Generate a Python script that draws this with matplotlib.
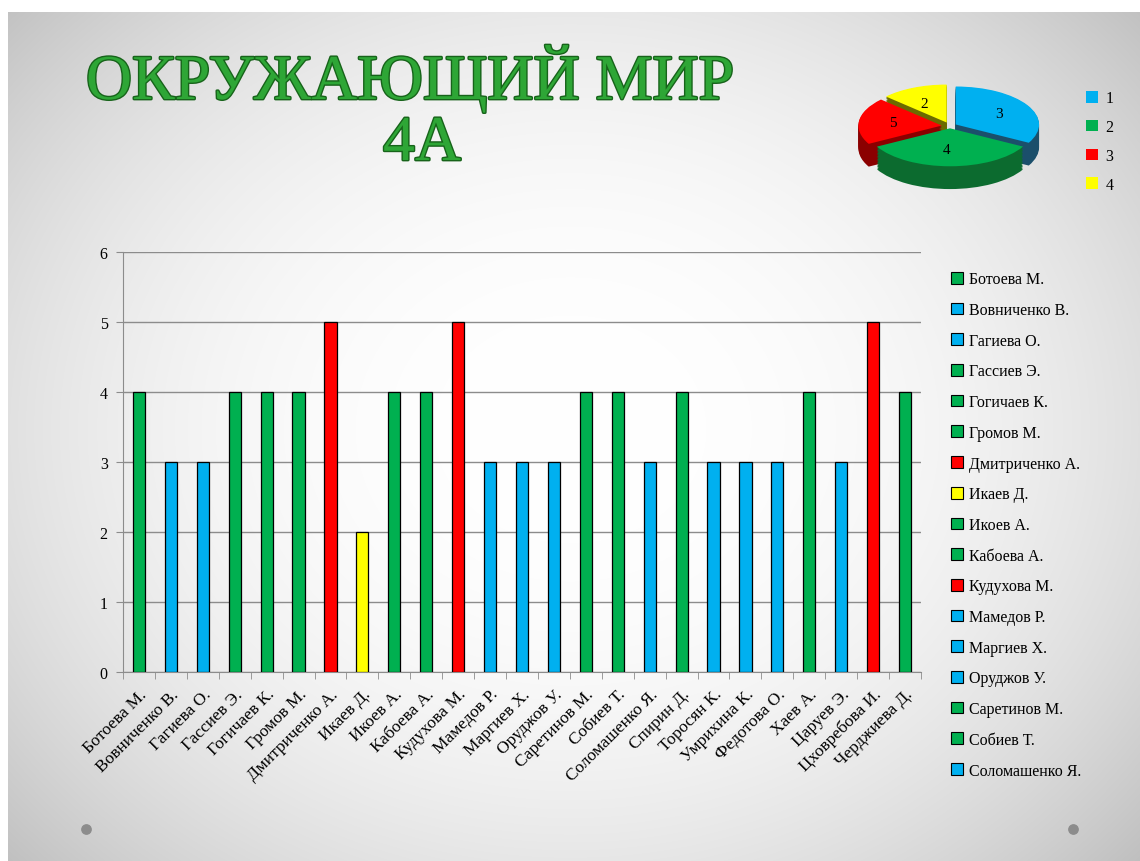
import matplotlib
matplotlib.use("Agg")
import matplotlib.pyplot as plt
import matplotlib.patches as mpatches
import matplotlib.patheffects as pe
import numpy as np

# --- data ---
students = [
    "Ботоева М.", "Вовниченко В.", "Гагиева О.", "Гассиев Э.", "Гогичаев К.",
    "Громов М.", "Дмитриченко А.", "Икаев Д.", "Икоев А.", "Кабоева А.",
    "Кудухова М.", "Мамедов Р.", "Маргиев Х.", "Оруджов У.", "Саретинов М.",
    "Собиев Т.", "Соломашенко Я.", "Спирин Д.", "Торосян К.", "Умрихина К.",
    "Федотова О.", "Хаев А.", "Царуев Э.", "Цховребова И.", "Черджиева Д.",
]
grades = [4, 3, 3, 4, 4, 4, 5, 2, 4, 4, 5, 3, 3, 3, 4, 4, 3, 4, 3, 3, 3, 4, 3, 5, 4]
y_ticks = [0, 1, 2, 3, 4, 5, 6]
legend_count = 17  # the legend is cut off after this many names

pie_legend = ["1", "2", "3", "4"]
pie_labels = ["3", "4", "5", "2"]
pie_shares = [33, 34, 20, 13]

grade_colors = {2: "#FFFF00", 3: "#00B0F0", 4: "#00B050", 5: "#FF0000"}
pie_colors = ["#00B0F0", "#00B050", "#FF0000", "#FFFF00"]
pie_side = ["#1B4F6B", "#0C6B2F", "#8B0000", "#6B6B00"]

W, H = 1140, 862
fig = plt.figure(figsize=(W / 100, H / 100), dpi=100)

# slide background: radial grey-white gradient
bg = fig.add_axes([0, 0, 1, 1])
yy, xx = np.mgrid[0:H, 0:W]
r = np.sqrt(((xx - 570) / 620.0) ** 2 + ((yy - 430) / 520.0) ** 2)
shade = 1.0 - 0.15 * np.clip(r, 0, 1.4) ** 2.4
img = np.dstack([shade, shade, shade])
img[:13, :] = 1.0
img[:, :8] = 1.0
bg.imshow(img, extent=[0, W, H, 0], aspect="auto")
bg.set_xlim(0, W)
bg.set_ylim(H, 0)
bg.axis("off")
bg.scatter([86, 1073], [830, 830], s=45, color="#8C8C8C")

# title
title_fx = [pe.withStroke(linewidth=2, foreground="#17631A")]
bg.text(410, 80, "ОКРУЖАЮЩИЙ МИР", ha="center", va="center", fontsize=46,
        family="Liberation Serif", color="#2EA636", path_effects=title_fx)
bg.text(422, 146, "4А", ha="center", va="center", fontsize=46,
        family="Liberation Serif", color="#2EA636", path_effects=title_fx)

# bar chart
ax = fig.add_axes([123 / W, 1 - 673 / H, 798 / W, 420 / H])
ax.patch.set_alpha(0)
x = np.arange(len(students))
colors = [grade_colors[g] for g in grades]
ax.bar(x, grades, width=0.38, color=colors, edgecolor="black", linewidth=0.9, zorder=3)
ax.set_xlim(-0.5, len(students) - 0.5)
ax.set_ylim(0, 6)
ax.set_yticks(y_ticks)
ax.yaxis.grid(True, color="#8C8C8C", linewidth=1, zorder=0)
for side in ["top", "right"]:
    ax.spines[side].set_visible(False)
for side in ["left", "bottom"]:
    ax.spines[side].set_color("#8C8C8C")
ax.tick_params(axis="y", length=5, color="#8C8C8C", labelsize=11.5, pad=6)
ax.set_xticks(x)
ax.set_xticklabels(students, rotation=45, ha="right", rotation_mode="anchor",
                   fontsize=12.5, family="Liberation Serif")
ax.tick_params(axis="x", which="major", length=0, pad=10)
ax.set_xticks(np.arange(-0.5, len(students)), minor=True)
ax.tick_params(axis="x", which="minor", length=5, color="#8C8C8C")
for lab in ax.get_yticklabels():
    lab.set_family("Liberation Serif")

handles = [mpatches.Patch(facecolor=colors[i], edgecolor="black", linewidth=0.8,
                          label=students[i]) for i in range(legend_count)]
fig.legend(handles=handles, loc="upper left", bbox_to_anchor=(945 / W, 1 - 266 / H),
           frameon=False, prop={"family": "Liberation Serif", "size": 11.5},
           handlelength=0.75, handleheight=0.75, handletextpad=0.35,
           labelspacing=0.92, borderaxespad=0)

# 3D-looking pie
pax = fig.add_axes([850 / W, 1 - 195 / H, 200 / W, 120 / H])
explode = [0.08, 0.06, 0.1, 0.1]
depth = 0.6
for k in np.linspace(depth, 0.02, 16):
    pax.pie(pie_shares, colors=pie_side, startangle=90, counterclock=False,
            explode=explode, center=(0, -k), wedgeprops={"linewidth": 0})
wedges, texts = pax.pie(pie_shares, colors=pie_colors, startangle=90,
                        counterclock=False, explode=explode, labels=pie_labels,
                        labeldistance=0.55, wedgeprops={"linewidth": 0},
                        textprops={"family": "Liberation Serif", "fontsize": 11})
pax.set_aspect("auto")
pax.set_xlim(-1.2, 1.2)
pax.set_ylim(-1.79, 1.37)
pax.axis("off")

pie_handles = [mpatches.Patch(facecolor=c, label=l) for c, l in zip(pie_colors, pie_legend)]
fig.legend(handles=pie_handles, loc="upper left", bbox_to_anchor=(1080 / W, 1 - 85 / H),
           frameon=False, prop={"family": "Liberation Serif", "size": 11.5},
           handlelength=0.75, handleheight=0.75, handletextpad=0.45,
           labelspacing=0.8, borderaxespad=0)

fig.savefig("out.png", dpi=100)
